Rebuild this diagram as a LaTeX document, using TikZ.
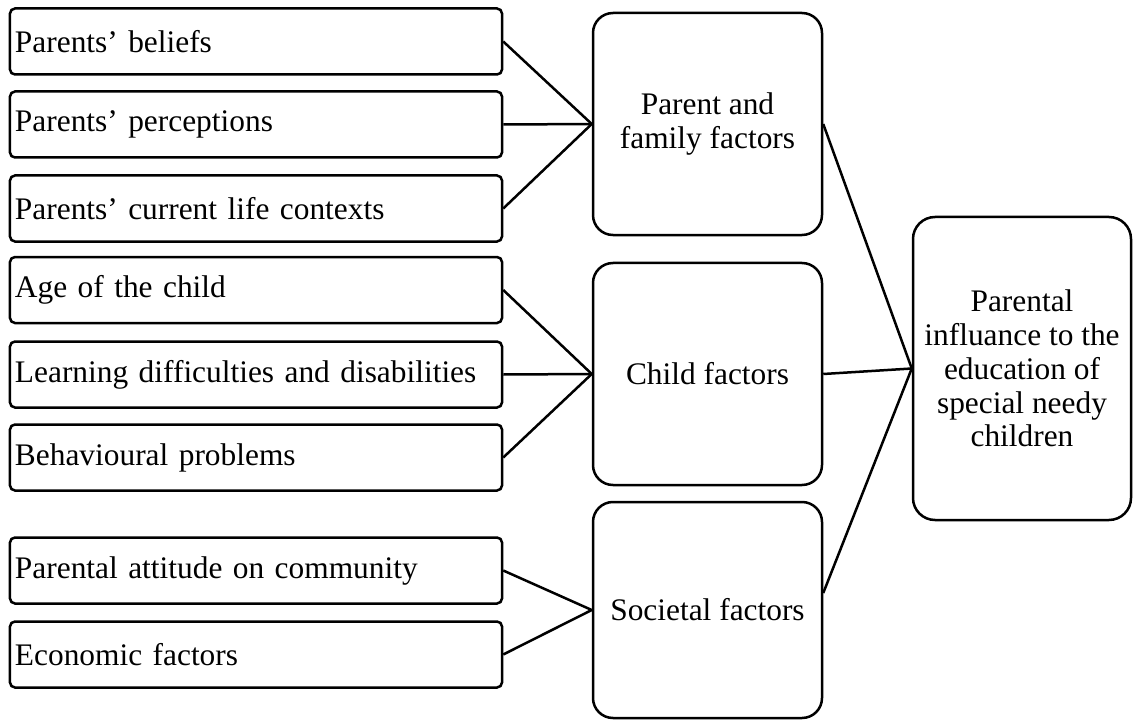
\documentclass[tikz,border=0pt]{standalone}
\usepackage{fontspec}
\setmainfont{Liberation Serif}
\begin{document}
\begin{tikzpicture}[x=1bp,y=-1bp,line width=2.5bp,
  font=\fontsize{31.5}{34}\selectfont,
  leftbox/.style={draw,rounded corners=5bp,minimum height=66bp,text width=482bp,inner xsep=5bp,inner ysep=0pt,align=left},
  midbox/.style={draw,rounded corners=20bp,minimum width=229bp,inner sep=0pt,align=center},
  rightbox/.style={draw,rounded corners=22bp,minimum width=218bp,minimum height=303bp,inner sep=0pt,align=center},
  conn/.style={draw,line width=2.5bp}]
\useasboundingbox (0,0) rectangle (1133,720);
\node[leftbox] (l1) at (256,41.5) {Parents’ beliefs};
\node[leftbox] (l2) at (256,124.5) {Parents’ perceptions};
\node[leftbox] (l3) at (256,208.5) {Parents’ current life contexts};
\node[leftbox] (l4) at (256,290) {Age of the child};
\node[leftbox] (l5) at (256,374.5) {Learning difficulties and disabilities};
\node[leftbox] (l6) at (256,457.5) {Behavioural problems};
\node[leftbox] (l7) at (256,570.5) {Parental attitude on community};
\node[leftbox] (l8) at (256,654.5) {Economic factors};
\node[midbox,minimum height=222bp] (A) at (707.5,124) {Parent and\\family factors};
\node[midbox,minimum height=222bp] (B) at (707.5,374) {Child factors};
\node[midbox,minimum height=216bp] (C) at (707.5,610) {Societal factors};
\node[rightbox] (R) at (1022,368.5) {Parental\\influance to the\\education of\\special needy\\children};
\draw[conn] (l1.east) -- (A.west);
\draw[conn] (l2.east) -- (A.west);
\draw[conn] (l3.east) -- (A.west);
\draw[conn] (l4.east) -- (B.west);
\draw[conn] (l5.east) -- (B.west);
\draw[conn] (l6.east) -- (B.west);
\draw[conn] (l7.east) -- (C.west);
\draw[conn] (l8.east) -- (C.west);
\draw[conn] (A.east) -- (R.west);
\draw[conn] (B.east) -- (R.west);
\draw[conn] ([yshift=17bp]C.east) -- (R.west);
\end{tikzpicture}
\end{document}
